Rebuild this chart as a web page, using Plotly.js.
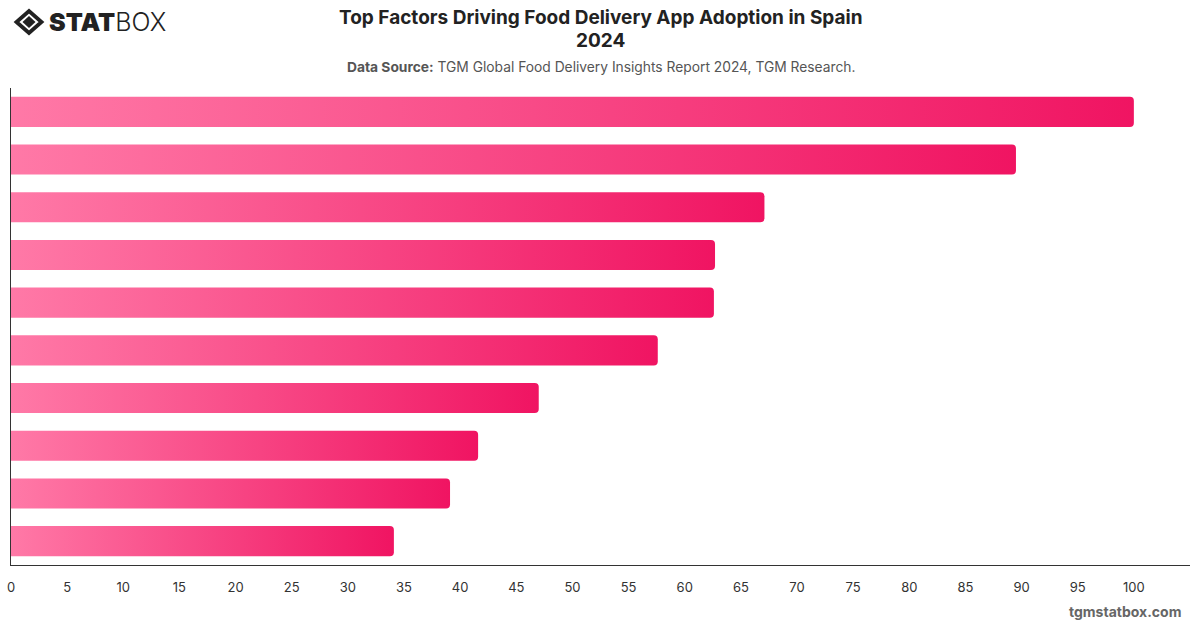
<!DOCTYPE html>
<html>
<head>
<meta charset="utf-8">
<script src="https://cdn.plot.ly/plotly-3.0.1.min.js"></script>
<style>
html,body{margin:0;padding:0;background:#fff;}
#chart{width:1200px;height:628px;}
</style>
</head>
<body>
<div id="chart"></div>
<script>
const categories = [
  "Convenience",
  "Time saving",
  "Wide variety of restaurants",
  "Promotions and discounts",
  "Easy ordering process",
  "Fast delivery",
  "Contactless delivery",
  "Order tracking",
  "Customer reviews",
  "Loyalty programs"
];
const values = [100, 89.5, 67.1, 62.7, 62.6, 57.6, 47.0, 41.6, 39.1, 34.1];
const tickValues = [0,5,10,15,20,25,30,35,40,45,50,55,60,65,70,75,80,85,90,95,100];
const titleLine1 = "Top Factors Driving Food Delivery App Adoption in Spain";
const titleLine2 = "2024";
const sourceLabel = "Data Source:";
const sourceText = "TGM Global Food Delivery Insights Report 2024, TGM Research.";
const footerText = "tgmstatbox.com";

const trace = {
  type: "bar",
  orientation: "h",
  x: values,
  y: categories,
  width: 0.63,
  marker: {color: "#f7407f", cornerradius: 4, line: {width: 0}},
  hoverinfo: "x+y"
};

const font = "Inter, 'Open Sans', sans-serif";
const layout = {
  width: 1200, height: 628,
  margin: {l: 11, r: 10, t: 88, b: 63},
  paper_bgcolor: "#fff", plot_bgcolor: "#fff",
  showlegend: false,
  font: {family: font, color: "#333"},
  xaxis: {
    range: [0, 105],
    tickvals: tickValues,
    ticktext: tickValues.map(String),
    showgrid: false, zeroline: false,
    showline: true, linecolor: "#333", linewidth: 1,
    ticks: "", ticklabelstandoff: 10,
    tickfont: {size: 13, color: "#333"},
    fixedrange: true
  },
  yaxis: {
    autorange: "reversed",
    showticklabels: false,
    showgrid: false, zeroline: false,
    showline: true, linecolor: "#333", linewidth: 1,
    ticks: "",
    fixedrange: true
  },
  annotations: [
    {
      xref: "paper", yref: "paper", x: 0.5, y: 1.1488,
      xanchor: "center", yanchor: "middle",
      text: "<b>" + titleLine1 + "</b>", showarrow: false,
      font: {size: 19, color: "#222", family: font}
    },
    {
      xref: "paper", yref: "paper", x: 0.5, y: 1.1006,
      xanchor: "center", yanchor: "middle",
      text: "<b>" + titleLine2 + "</b>", showarrow: false,
      font: {size: 19, color: "#222", family: font}
    },
    {
      xref: "paper", yref: "paper", x: 0.5, y: 1.044,
      xanchor: "center", yanchor: "middle",
      text: "<b>" + sourceLabel + "</b> " + sourceText,
      showarrow: false,
      font: {size: 13.8, color: "#555", family: font}
    },
    {
      xref: "paper", yref: "paper", x: 1, y: 0,
      xanchor: "right", yanchor: "top", xshift: -7, yshift: -36,
      text: "<b>" + footerText + "</b>",
      showarrow: false,
      font: {size: 14, color: "#666", family: font}
    },
    {
      xref: "paper", yref: "paper", x: 0.0305, y: 1.1384,
      xanchor: "left", yanchor: "middle",
      text: "<span style='font-weight:900'>STAT</span><span style='font-weight:300'>BOX</span>",
      showarrow: false,
      font: {size: 25, color: "#222", family: "Inter, 'Liberation Sans', sans-serif"}
    }
  ],
  shapes: [
    {type: "path", xref: "paper", yref: "paper", xsizemode: "pixel", ysizemode: "pixel",
     xanchor: 0, yanchor: 1,
     path: "M 5.5 66 L 18 55 L 30.5 66 L 18 77 Z",
     line: {color: "#222", width: 3.8}, fillcolor: "rgba(0,0,0,0)"},
    {type: "path", xref: "paper", yref: "paper", xsizemode: "pixel", ysizemode: "pixel",
     xanchor: 0, yanchor: 1,
     path: "M 11.5 66 L 18 60 L 24.5 66 L 18 72 Z",
     line: {color: "#222", width: 0}, fillcolor: "#222"}
  ]
};

Plotly.newPlot("chart", [trace], layout, {displayModeBar: false, staticPlot: true}).then(function(gd){
  const svg = gd.querySelector(".main-svg");
  const ns = "http://www.w3.org/2000/svg";
  let defs = svg.querySelector("defs");
  if (!defs) { defs = document.createElementNS(ns, "defs"); svg.insertBefore(defs, svg.firstChild); }
  const grad = document.createElementNS(ns, "linearGradient");
  grad.setAttribute("id", "barGrad");
  grad.setAttribute("x1", "0"); grad.setAttribute("y1", "0");
  grad.setAttribute("x2", "1"); grad.setAttribute("y2", "0");
  const s1 = document.createElementNS(ns, "stop");
  s1.setAttribute("offset", "0"); s1.setAttribute("stop-color", "#ff79a7");
  const s2 = document.createElementNS(ns, "stop");
  s2.setAttribute("offset", "1"); s2.setAttribute("stop-color", "#f01462");
  grad.appendChild(s1); grad.appendChild(s2);
  defs.appendChild(grad);
  gd.querySelectorAll(".trace.bars .point path").forEach(function(p){
    p.style.fill = "url(#barGrad)";
  });
});
</script>
</body>
</html>
